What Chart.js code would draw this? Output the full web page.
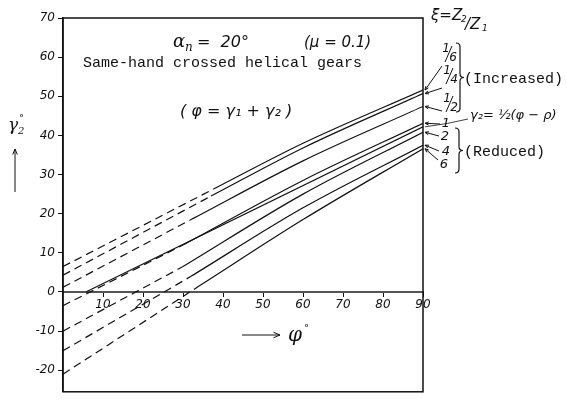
<!DOCTYPE html>
<html lang="en">
<head>
<meta charset="UTF-8" />
<title>Same-hand crossed helical gears</title>
<script src="https://cdn.jsdelivr.net/npm/chart.js"></script>
<style>
  body { margin: 0; background: #fff; }
  #gearChart { display: block; }
</style>
</head>
<body>
<canvas id="gearChart" width="567" height="402"></canvas>
<script>
    // gear ratio xi = Z2/Z1, from the top curve down
    const ratioLabels = ['1/6', '1/4', '1/2', '1', '2', '4', '6'];
    // dashed straight part: gamma2 at phi = 0, running up to the start of the solid curve
    const dashStart = [6.5, 4.3, 1.2, -3.5, -10, -15, -21];
    const joinPhi   = [38, 37, 32, 30, 30, 32, 34];
    const joinGamma = [26.5, 24.5, 18.5, 12, 6.5, 4, 1.5];
    // solid part: gamma2 at phi = 60 and phi = 90
    const midPhi = 60;
    const endPhi = 90;
    const gammaMid = [38, 36.8, 33.5, 28.5, 25, 21.5, 18.5];
    const gammaEnd = [51.6, 50.7, 47.4, 43.1, 40.8, 37.5, 36.6];
    // gamma2 = 1/2 (phi - rho)
    const halfLinePhi   = [5.7, 90];
    const halfLineGamma = [0, 42.2];

    const xTicks = [10, 20, 30, 40, 50, 60, 70, 80, 90];
    const yTicks = [-20, -10, 0, 10, 20, 30, 40, 50, 60, 70];

    const INK = '#111';
    const handFont = "'DejaVu Sans'";

    const datasets = [];
    ratioLabels.forEach((r, i) => {
        datasets.push({
            label: 'xi ' + r + ' (extension)',
            data: [{ x: 0, y: dashStart[i] }, { x: joinPhi[i], y: joinGamma[i] }],
            borderDash: [8, 5]
        });
        datasets.push({
            label: 'xi ' + r,
            data: [
                { x: joinPhi[i], y: joinGamma[i] },
                { x: midPhi, y: gammaMid[i] },
                { x: endPhi, y: gammaEnd[i] }
            ],
            cubicInterpolationMode: 'monotone'
        });
    });
    datasets.push({
        label: 'gamma2 = (phi - rho)/2',
        data: halfLinePhi.map((p, i) => ({ x: p, y: halfLineGamma[i] }))
    });
    datasets.forEach(d => {
        d.showLine = true;
        d.borderColor = INK;
        d.borderWidth = 1.2;
        d.pointRadius = 0;
        d.fill = false;
    });

    function setTicks(list) {
        return scale => { scale.ticks = list.map(v => ({ value: v })); };
    }

    // small slanted fraction like 1/6
    function drawFrac(ctx, num, den, x, y) {
        ctx.font = "italic 12px " + handFont;
        ctx.textAlign = 'center';
        ctx.textBaseline = 'middle';
        ctx.fillText(num, x - 3, y - 5);
        ctx.fillText(den, x + 4, y + 4);
        ctx.beginPath();
        ctx.moveTo(x - 4, y + 8);
        ctx.lineTo(x + 3, y - 8);
        ctx.stroke();
    }

    function drawBrace(ctx, x, y1, y2, w) {
        const ym = (y1 + y2) / 2;
        ctx.beginPath();
        ctx.moveTo(x, y1);
        ctx.quadraticCurveTo(x + w, y1, x + w, y1 + w);
        ctx.lineTo(x + w, ym - w);
        ctx.quadraticCurveTo(x + w, ym, x + 2 * w, ym);
        ctx.quadraticCurveTo(x + w, ym, x + w, ym + w);
        ctx.lineTo(x + w, y2 - w);
        ctx.quadraticCurveTo(x + w, y2, x, y2);
        ctx.stroke();
    }

    function drawArrow(ctx, x1, y1, x2, y2, head) {
        ctx.beginPath();
        ctx.moveTo(x1, y1);
        ctx.lineTo(x2, y2);
        ctx.stroke();
        const a = Math.atan2(y2 - y1, x2 - x1);
        ctx.beginPath();
        ctx.moveTo(x2 - head * Math.cos(a - 0.4), y2 - head * Math.sin(a - 0.4));
        ctx.lineTo(x2, y2);
        ctx.lineTo(x2 - head * Math.cos(a + 0.4), y2 - head * Math.sin(a + 0.4));
        ctx.stroke();
    }

    const framePlugin = {
        id: 'frame',
        beforeDatasetsDraw(chart) {
            const { ctx, chartArea: a } = chart;
            ctx.save();
            ctx.strokeStyle = INK;
            ctx.lineWidth = 1.5;
            ctx.strokeRect(a.left, a.top, a.right - a.left, a.bottom - a.top);
            ctx.restore();
        }
    };

    const notesPlugin = {
        id: 'notes',
        afterDraw(chart) {
            const { ctx } = chart;
            const xs = chart.scales.x, ys = chart.scales.y;
            const edge = xs.getPixelForValue(endPhi) + 2;
            ctx.save();
            ctx.fillStyle = INK;
            ctx.strokeStyle = INK;
            ctx.lineWidth = 1;
            ctx.textBaseline = 'middle';
            ctx.textAlign = 'left';

            // headings inside the plot
            ctx.font = "italic 18px 'DejaVu Serif'";
            ctx.fillText('\u03b1', 173, 42);
            ctx.font = "italic 12px 'DejaVu Serif'";
            ctx.fillText('n', 185, 48);
            ctx.font = "italic 16px " + handFont;
            ctx.fillText('=  20\u00b0', 197, 43);
            ctx.font = "italic 15px " + handFont;
            ctx.fillText('(\u03bc = 0.1)', 304, 43);
            ctx.font = "15px 'Liberation Mono'";
            ctx.fillText('Same-hand crossed helical gears', 83, 63);
            ctx.font = "italic 16px " + handFont;
            ctx.fillText('( \u03c6 = \u03b3\u2081 + \u03b3\u2082 )', 180, 112);

            // axis titles
            ctx.font = "italic 17px 'DejaVu Serif'";
            ctx.fillText('\u03b3', 8, 126);
            ctx.font = "italic 10px 'DejaVu Serif'";
            ctx.fillText('2', 18, 131);
            ctx.fillText('\u00b0', 19, 118);
            drawArrow(ctx, 15, 192, 15, 149, 6);
            drawArrow(ctx, 242, 335, 280, 335, 7);
            ctx.font = "italic 20px 'DejaVu Serif'";
            ctx.fillText('\u03c6', 288, 336);
            ctx.font = "10px 'DejaVu Serif'";
            ctx.fillText('\u00b0', 304, 328);

            // ratio key on the right
            ctx.font = "italic 15px " + handFont;
            ctx.fillText('\u03be=Z', 431, 16);
            ctx.font = "italic 9px " + handFont;
            ctx.fillText('2', 461, 20);
            ctx.font = "italic 15px " + handFont;
            ctx.fillText('/Z', 465, 25);
            ctx.font = "italic 9px " + handFont;
            ctx.fillText('1', 482, 29);

            const labelPos = [[449, 54], [450, 76], [450, 104], [446, 124], [445, 137], [446, 152], [444, 165]];
            const tailPos  = [[442, 66], [442, 88], [442, 111], [440, 124], [439, 136], [439, 151], [438, 160]];
            ratioLabels.forEach((r, i) => {
                const [lx, ly] = labelPos[i];
                if (r.includes('/')) {
                    const [n, d] = r.split('/');
                    drawFrac(ctx, n, d, lx, ly);
                } else {
                    ctx.font = "italic 13px " + handFont;
                    ctx.textAlign = 'center';
                    ctx.fillText(r, lx, ly);
                }
                drawArrow(ctx, tailPos[i][0], tailPos[i][1], edge, ys.getPixelForValue(gammaEnd[i]), 4);
            });

            ctx.lineWidth = 1.2;
            drawBrace(ctx, 456, 43, 112, 4);
            drawBrace(ctx, 455, 128, 173, 4);
            ctx.textAlign = 'left';
            ctx.font = "15px 'Liberation Mono'";
            ctx.fillText('(Increased)', 464, 79);
            ctx.fillText('(Reduced)', 464, 152);

            // label of the straight line
            ctx.font = "italic 13px " + handFont;
            ctx.fillText('\u03b3\u2082= \u00bd(\u03c6 \u2212 \u03c1)', 470, 116);
            ctx.lineWidth = 0.8;
            ctx.beginPath();
            ctx.moveTo(468, 119);
            ctx.quadraticCurveTo(448, 124, edge, ys.getPixelForValue(halfLineGamma[1]));
            ctx.stroke();
            ctx.restore();
        }
    };

    const chart = new Chart(document.getElementById('gearChart'), {
        type: 'scatter',
        data: { datasets },
        plugins: [framePlugin, notesPlugin],
        options: {
            responsive: false,
            animation: false,
            layout: { padding: { left: 0, right: 144, top: 18, bottom: 2 } },
            plugins: { legend: { display: false }, tooltip: { enabled: false } },
            scales: {
                x: {
                    type: 'linear',
                    min: 0,
                    max: 90,
                    position: { y: 0 },
                    afterBuildTicks: setTicks(xTicks),
                    grid: { drawOnChartArea: false, tickLength: 4, color: INK },
                    border: { color: '#555', width: 2 },
                    ticks: { color: INK, padding: 2, font: { family: 'DejaVu Sans', style: 'italic', size: 12 } }
                },
                y: {
                    type: 'linear',
                    min: -25.5,
                    max: 70,
                    afterBuildTicks: setTicks(yTicks),
                    afterFit(scale) { scale.width = 63; },
                    grid: { drawOnChartArea: false, tickLength: 5, color: INK },
                    border: { color: INK, width: 1.5 },
                    ticks: { color: INK, padding: 3, font: { family: 'DejaVu Sans', style: 'italic', size: 12 } }
                }
            }
        }
    });
</script>
</body>
</html>
